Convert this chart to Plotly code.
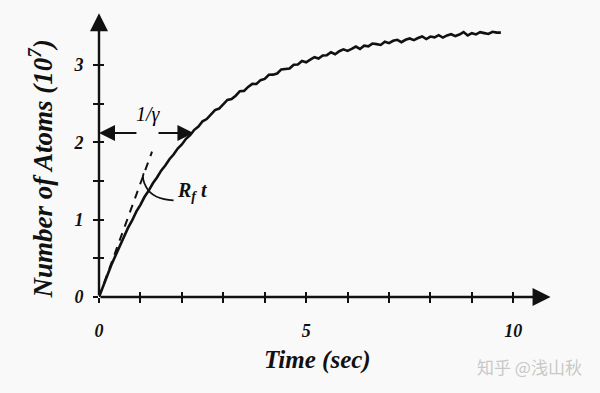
import plotly.graph_objects as go

# ---- data ----
time_s = [0.0, 0.1, 0.2, 0.3, 0.4, 0.5, 0.6, 0.7, 0.8, 0.9,
          1.0, 1.1, 1.2, 1.3, 1.4, 1.5, 1.6, 1.7, 1.8, 1.9,
          2.0, 2.1, 2.2, 2.3, 2.4, 2.5, 2.6, 2.7, 2.8, 2.9,
          3.0, 3.1, 3.2, 3.3, 3.4, 3.5, 3.6, 3.7, 3.8, 3.9,
          4.0, 4.1, 4.2, 4.3, 4.4, 4.5, 4.6, 4.7, 4.8, 4.9,
          5.0, 5.1, 5.2, 5.3, 5.4, 5.5, 5.6, 5.7, 5.8, 5.9,
          6.0, 6.1, 6.2, 6.3, 6.4, 6.5, 6.6, 6.7, 6.8, 6.9,
          7.0, 7.1, 7.2, 7.3, 7.4, 7.5, 7.6, 7.7, 7.8, 7.9,
          8.0, 8.1, 8.2, 8.3, 8.4, 8.5, 8.6, 8.7, 8.8, 8.9,
          9.0, 9.1, 9.2, 9.3, 9.4, 9.5, 9.6, 9.7]
atoms_1e7 = [0.000, 0.150, 0.278, 0.418, 0.536, 0.665, 0.772, 0.894, 0.990, 1.104,
             1.192, 1.296, 1.375, 1.470, 1.545, 1.634, 1.700, 1.782, 1.842, 1.920,
             1.972, 2.045, 2.092, 2.162, 2.205, 2.272, 2.301, 2.362, 2.417, 2.437,
             2.493, 2.548, 2.560, 2.603, 2.661, 2.665, 2.717, 2.756, 2.755, 2.804,
             2.820, 2.874, 2.875, 2.890, 2.943, 2.952, 2.954, 3.004, 3.006, 3.051,
             3.035, 3.070, 3.101, 3.083, 3.124, 3.127, 3.165, 3.139, 3.178, 3.202,
             3.182, 3.208, 3.239, 3.208, 3.250, 3.242, 3.277, 3.270, 3.259, 3.301,
             3.283, 3.313, 3.326, 3.295, 3.326, 3.343, 3.321, 3.349, 3.369, 3.336,
             3.368, 3.357, 3.386, 3.355, 3.383, 3.398, 3.374, 3.394, 3.426, 3.382,
             3.411, 3.395, 3.424, 3.412, 3.401, 3.430, 3.419, 3.418]

tangent_t = [0.0, 1.28]
tangent_n = [0.0, 1.88]

x_tick_vals = [0, 1, 2, 3, 4, 5, 6, 7, 8, 9, 10]
x_tick_text = ['0', '', '', '', '', '5', '', '', '', '', '10']
y_tick_vals = [0, 0.5, 1, 1.5, 2, 2.5, 3]
y_tick_text = ['0', '', '1', '', '2', '', '3']

x_range = [0, 11.2]
y_range = [0, 3.75]
x_axis_end = 10.9
y_axis_end = 3.67

inv_gamma = 2.28
n_at_inv_gamma = 2.12
gap_left, gap_right = 0.94, 1.40

ink = '#111111'
bg = '#f9f9f9'
serif = 'Liberation Serif, Times New Roman, serif'

fig = go.Figure()
fig.add_trace(go.Scatter(x=time_s, y=atoms_1e7, mode='lines',
                         line=dict(color=ink, width=2.6), cliponaxis=False,
                         hoverinfo='skip'))
fig.add_trace(go.Scatter(x=tangent_t, y=tangent_n, mode='lines',
                         line=dict(color=ink, width=2, dash='8px,7px'),
                         cliponaxis=False, hoverinfo='skip'))
# helper trace for crossing ticks
fig.add_trace(go.Scatter(x=[None], y=[None], xaxis='x2', yaxis='y2',
                         mode='lines', hoverinfo='skip'))

tickfont = dict(family=serif, size=18, color=ink, weight='bold', style='italic')
fig.update_layout(
    width=600, height=393,
    margin=dict(l=99, r=37, t=7, b=96),
    paper_bgcolor=bg, plot_bgcolor=bg,
    showlegend=False,
    xaxis=dict(range=x_range, showgrid=False, zeroline=False, showline=False,
               tickvals=x_tick_vals, ticktext=x_tick_text, ticks='outside',
               ticklen=5, tickwidth=2, tickcolor=ink, tickfont=tickfont,
               ticklabelstandoff=12),
    yaxis=dict(range=y_range, showgrid=False, zeroline=False, showline=False,
               tickvals=y_tick_vals, ticktext=y_tick_text, ticks='outside',
               ticklen=5, tickwidth=2, tickcolor=ink, tickfont=tickfont,
               ticklabelstandoff=6),
    xaxis2=dict(range=x_range, overlaying='x', anchor='y', side='bottom',
                showgrid=False, zeroline=False, showline=False,
                tickvals=x_tick_vals, ticks='inside', ticklen=5, tickwidth=2,
                tickcolor=ink, showticklabels=False),
    yaxis2=dict(range=y_range, overlaying='y', anchor='x', side='left',
                showgrid=False, zeroline=False, showline=False,
                tickvals=y_tick_vals, ticks='inside', ticklen=5, tickwidth=2,
                tickcolor=ink, showticklabels=False),
)

ann = []
# axes with arrows
for hx, hy in [(x_axis_end, 0), (0, y_axis_end)]:
    ann.append(dict(x=hx, y=hy, ax=0, ay=0, xref='x', yref='y', axref='x', ayref='y',
                    text='', showarrow=True, arrowhead=2, arrowsize=1.5, arrowwidth=2.4,
                    arrowcolor=ink))
# 1/gamma double arrow
ann.append(dict(x=0, y=n_at_inv_gamma, ax=gap_left, ay=n_at_inv_gamma,
                xref='x', yref='y', axref='x', ayref='y', text='', showarrow=True,
                arrowhead=2, arrowsize=1.6, arrowwidth=2, arrowcolor=ink))
ann.append(dict(x=inv_gamma, y=n_at_inv_gamma, ax=gap_right, ay=n_at_inv_gamma,
                xref='x', yref='y', axref='x', ayref='y', text='', showarrow=True,
                arrowhead=2, arrowsize=1.6, arrowwidth=2, arrowcolor=ink))
ann.append(dict(x=1.2, y=2.36, xref='x', yref='y', text='<i>1/γ</i>', showarrow=False,
                xanchor='center', yanchor='middle',
                font=dict(family=serif, size=20, color='#000000')))
ann.append(dict(x=2.25, y=1.36, xref='x', yref='y', text='<b><i>R<sub>f</sub> t</i></b>',
                showarrow=False, xanchor='center', yanchor='middle',
                font=dict(family=serif, size=20, color=ink)))
# axis titles
ann.append(dict(x=-0.125, y=0.44, xref='paper', yref='paper', textangle=-90,
                xanchor='center', yanchor='middle',
                text='<b><i>Number of Atoms (10<sup>7</sup>)</i></b>', showarrow=False,
                font=dict(family=serif, size=27, color=ink)))
ann.append(dict(x=0.47, y=-0.217, xref='paper', yref='paper',
                xanchor='center', yanchor='middle',
                text='<b><i>Time (sec)</i></b>', showarrow=False,
                font=dict(family=serif, size=25, color=ink)))
# watermark
ann.append(dict(x=0.927, y=-0.241, xref='paper', yref='paper', text='知乎 @浅山秋',
                xanchor='center', yanchor='middle', showarrow=False,
                font=dict(family='Noto Sans CJK SC', size=17, color='#c8c8c8')))
fig.update_layout(annotations=ann)

fig.add_shape(type='path', xref='x', yref='y',
              path='M 1.80,1.25 Q 1.30,1.26 1.14,1.42 Q 1.02,1.54 1.08,1.60',
              line=dict(color=ink, width=1.8))

fig.write_html('out.html')
